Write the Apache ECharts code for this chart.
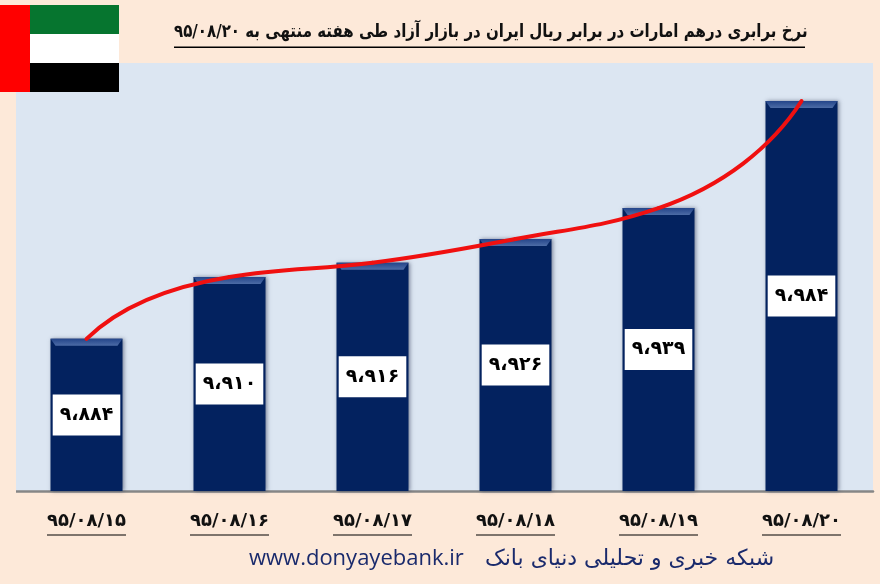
<!DOCTYPE html>
<html><head><meta charset="utf-8">
<style>html,body{margin:0;padding:0;background:#fde9d9}#c{width:880px;height:584px}</style>
<script src="https://cdn.jsdelivr.net/npm/echarts@6/dist/echarts.min.js"></script>
</head><body><div id="c"></div>
<script>
const categories = ['۹۵/۰۸/۱۵','۹۵/۰۸/۱۶','۹۵/۰۸/۱۷','۹۵/۰۸/۱۸','۹۵/۰۸/۱۹','۹۵/۰۸/۲۰'];
const rates = [9884, 9910, 9916, 9926, 9939, 9984];
const titleText = 'نرخ برابری درهم امارات در برابر ریال ایران در بازار آزاد طی هفته منتهی به ۹۵/۰۸/۲۰';
const siteText = 'www.donyayebank.ir';
const networkText = 'شبکه خبری و تحلیلی دنیای بانک';

const fa = v => { const s = String(v).replace(/\d/g, d => '۰۱۲۳۴۵۶۷۸۹'[d]); return s[0] + '،' + s.slice(1); };
const font = '"DejaVu Sans"';

// Smooth trend segment between two neighbouring rates, placed through the chart's own scale.
function trendSegment(params, api) {
  const i = params.dataIndex;
  const last = rates.length - 1;
  if (i >= last) return { type: 'group', children: [] };
  const pts = rates.map((v, k) => api.coord([k, v]));
  const slope = (a, b) => (pts[b][1] - pts[a][1]) / (pts[b][0] - pts[a][0]);
  const tangent = k => {
    const s0 = slope(k - 1, k), s1 = slope(k, k + 1);
    return 2 * s0 * s1 / (s0 + s1);
  };
  const a = pts[i], b = pts[i + 1], dx = b[0] - a[0], s = slope(i, i + 1);
  let cp1, cp2;
  if (i === 0) {
    const m = tangent(1);
    cp1 = [a[0] + 0.2 * dx, a[1] + 0.2 * dx * (3 * s - 2 * m)];
    cp2 = [b[0] - 0.48 * dx, b[1] - 0.48 * dx * m];
  } else if (i === last - 1) {
    const m = tangent(i);
    cp1 = [a[0] + 0.45 * dx, a[1] + 0.45 * dx * m];
    cp2 = [b[0] - 0.2 * dx, b[1] - 0.2 * dx * (3 * s - 2 * m)];
  } else {
    cp1 = [a[0] + 0.4 * dx, a[1] + 0.4 * dx * tangent(i)];
    cp2 = [b[0] - 0.4 * dx, b[1] - 0.4 * dx * tangent(i + 1)];
  }
  return {
    type: 'bezierCurve',
    shape: { x1: a[0], y1: a[1], cpx1: cp1[0], cpy1: cp1[1], cpx2: cp2[0], cpy2: cp2[1], x2: b[0], y2: b[1] },
    style: { fill: 'none', stroke: '#f01010', lineWidth: 4, lineCap: 'round' }
  };
}

const chart = echarts.init(document.getElementById('c'));
chart.setOption({
  animation: false,
  backgroundColor: '#fde9d9',
  grid: { left: 15, right: 7, top: 63, bottom: 93, show: true, backgroundColor: '#dce6f2', borderWidth: 0 },
  xAxis: {
    type: 'category', data: categories,
    axisTick: { show: false },
    axisLine: { lineStyle: { color: '#868686', width: 2.5 } },
    axisLabel: {
      margin: 18, interval: 0,
      formatter: v => '{a|' + v + '}\n{u|}',
      rich: {
        a: { fontFamily: font, fontWeight: 'bold', fontSize: 18, color: '#111', height: 24, lineHeight: 24 },
        u: { width: 79, height: 1, backgroundColor: '#000', lineHeight: 4 }
      }
    }
  },
  yAxis: { type: 'value', min: 9820, max: 10000, show: false, splitLine: { show: false } },
  series: [
    {
      type: 'bar', data: rates, barWidth: 72, z: 2,
      itemStyle: { color: '#03225f', shadowBlur: 4, shadowColor: 'rgba(40,50,80,0.55)', shadowOffsetX: 1 },
      label: {
        show: true, position: 'inside', formatter: p => fa(p.value),
        fontFamily: font, fontWeight: 'bold', fontSize: 19, color: '#000', lineHeight: 22,
        backgroundColor: '#fff', padding: [10, 7, 9, 7]
      }
    },
    {
      type: 'custom', data: rates.map((v, i) => [i, v]), z: 3, silent: true, clip: false,
      renderItem: (params, api) => {
        const c = api.coord([api.value(0), api.value(1)]);
        const w = 72, l = c[0] - w / 2, r = c[0] + w / 2, t = c[1], b = 7;
        return { type: 'polygon', shape: { points: [[l, t], [r, t], [r - 5, t + b], [l + 5, t + b]] },
          style: { fill: new echarts.graphic.LinearGradient(0, 0, 0, 1, [{ offset: 0, color: '#24458a' }, { offset: 1, color: '#4d6ca6' }]) } };
      }
    },
    {
      type: 'custom', data: rates.map((v, i) => [i, v]), z: 4, silent: true, clip: false,
      renderItem: trendSegment
    }
  ],
  graphic: [
    { type: 'rect', shape: { x: 0, y: 60, width: 16, height: 436 }, style: { fill: '#fde9d9' }, z: 9 },
    { type: 'rect', shape: { x: 0, y: 5, width: 30, height: 87 }, style: { fill: '#ff0000' }, z: 10 },
    { type: 'rect', shape: { x: 30, y: 5, width: 89, height: 29 }, style: { fill: '#06752f' }, z: 10 },
    { type: 'rect', shape: { x: 30, y: 34, width: 89, height: 29 }, style: { fill: '#ffffff' }, z: 10 },
    { type: 'rect', shape: { x: 30, y: 63, width: 89, height: 29 }, style: { fill: '#000000' }, z: 10 },
    { type: 'text', x: 174, y: 23, scaleX: 0.835, style: { text: titleText, font: 'bold 18px "DejaVu Sans"', fill: '#111' }, z: 10 },
    { type: 'rect', shape: { x: 174, y: 46.5, width: 631, height: 1.5 }, style: { fill: '#000' }, z: 10 },
    { type: 'text', left: 249, top: 548, style: { text: siteText, font: '22px "Open Sans"', fill: '#1a2a6c' }, z: 10 },
    { type: 'text', left: 485, top: 548, style: { text: networkText, font: '22px "DejaVu Sans"', fill: '#1a2a6c' }, z: 10 }
  ]
});
</script></body></html>
